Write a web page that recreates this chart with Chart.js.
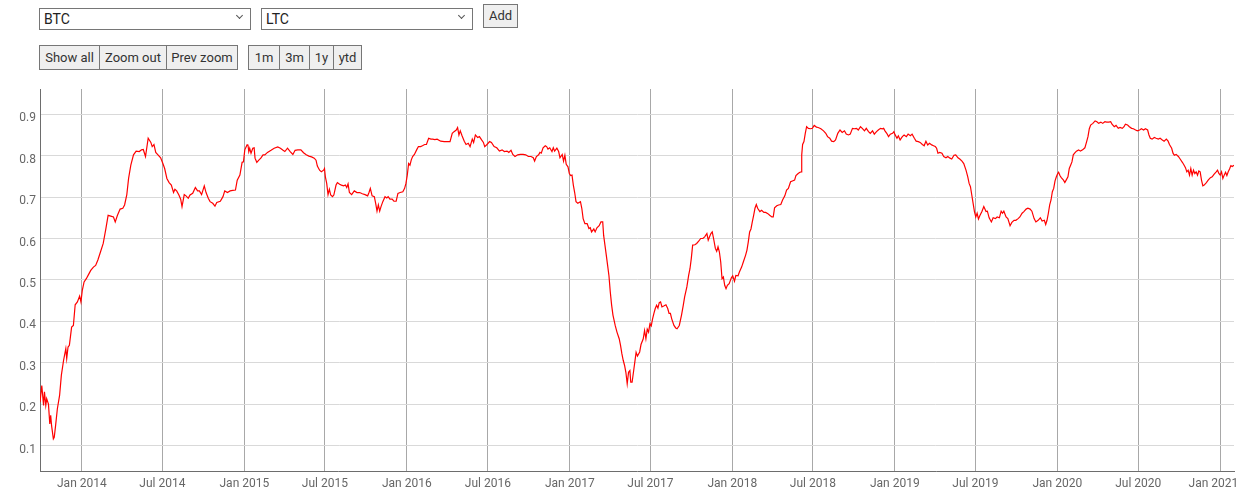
<!DOCTYPE html>
<html>
<head>
<meta charset="utf-8">
<script src="https://cdn.jsdelivr.net/npm/chart.js@4/dist/chart.umd.min.js"></script>
<style>
html,body{margin:0;padding:0;background:#fff;width:1240px;height:499px;overflow:hidden;font-family:Roboto,"Noto Sans",sans-serif;}
.sel{position:absolute;top:8px;height:22px;width:212px;box-sizing:border-box;border:1px solid #767676;background:#fff;font-size:14px;color:#222;line-height:20px;padding-left:4px;}
.chev{position:absolute;right:8px;top:4px;width:4px;height:4px;border-right:1.6px solid #555;border-bottom:1.6px solid #555;transform:rotate(45deg);}
.add{position:absolute;left:483px;top:4px;width:35px;height:24px;box-sizing:border-box;border:1px solid #767676;background:#efefef;font-size:13px;color:#333;line-height:22px;text-align:center;}
.grp{position:absolute;top:45px;height:25px;display:flex;box-sizing:border-box;border:1px solid #767676;background:#efefef;font-size:13px;color:#333;}
.grp div{box-sizing:border-box;line-height:23px;text-align:center;border-left:1px solid #767676;}
.grp div:first-child{border-left:none;}
#wrap{position:absolute;left:0;top:80px;width:1240px;height:419px;}
</style>
</head>
<body>
<div class="sel" style="left:39px">BTC<span class="chev"></span></div>
<div class="sel" style="left:261px">LTC<span class="chev"></span></div>
<div class="add">Add</div>
<div class="grp" style="left:39px;width:199px"><div style="width:59px">Show all</div><div style="width:67px">Zoom out</div><div style="width:71px">Prev zoom</div></div>
<div class="grp" style="left:248px;width:114px"><div style="width:30px">1m</div><div style="width:30px">3m</div><div style="width:24px">1y</div><div style="width:28px">ytd</div></div>
<div id="wrap"><canvas id="c" width="1240" height="419"></canvas></div>
<script>
const dates = [
'2013-09-29','2013-10-03','2013-10-07','2013-10-09','2013-10-12','2013-10-14','2013-10-18','2013-10-21','2013-10-23','2013-10-25','2013-10-29','2013-10-31',
'2013-11-03','2013-11-07','2013-11-12','2013-11-16','2013-11-21','2013-11-26','2013-11-28','2013-12-01','2013-12-04','2013-12-09','2013-12-13','2013-12-17','2013-12-22','2013-12-27','2013-12-30',
'2014-01-02','2014-01-06','2014-01-11','2014-01-15','2014-01-21','2014-01-27','2014-02-01','2014-02-06','2014-02-12','2014-02-18','2014-02-24',
'2014-03-01','2014-03-07','2014-03-13','2014-03-17','2014-03-22','2014-03-28','2014-04-03','2014-04-07','2014-04-12','2014-04-16','2014-04-21','2014-04-27',
'2014-05-03','2014-05-10','2014-05-15','2014-05-19','2014-05-24','2014-05-30','2014-06-05','2014-06-08','2014-06-12','2014-06-16','2014-06-21','2014-06-27',
'2014-07-02','2014-07-06','2014-07-11','2014-07-16','2014-07-21','2014-07-26','2014-07-29','2014-08-02','2014-08-07','2014-08-11','2014-08-14','2014-08-19','2014-08-23','2014-08-28',
'2014-09-01','2014-09-07','2014-09-13','2014-09-18','2014-09-22','2014-09-27','2014-10-03','2014-10-07','2014-10-12','2014-10-16','2014-10-22','2014-10-27','2014-10-31',
'2014-11-08','2014-11-14','2014-11-18','2014-11-24','2014-11-30','2014-12-06','2014-12-12','2014-12-16','2014-12-22','2014-12-27','2014-12-30',
'2015-01-02','2015-01-07','2015-01-09','2015-01-11','2015-01-13','2015-01-16','2015-01-20','2015-01-23','2015-01-25','2015-01-29',
'2015-02-03','2015-02-07','2015-02-12','2015-02-16','2015-02-22','2015-03-02','2015-03-09','2015-03-17','2015-03-23','2015-03-29',
'2015-04-02','2015-04-08','2015-04-14','2015-04-20','2015-04-25','2015-05-01','2015-05-08','2015-05-14','2015-05-20','2015-05-26',
'2015-06-01','2015-06-07','2015-06-11','2015-06-14','2015-06-19','2015-06-23','2015-06-28','2015-06-30',
'2015-07-02','2015-07-05','2015-07-08','2015-07-11','2015-07-14','2015-07-18','2015-07-21','2015-07-26','2015-07-29',
'2015-08-03','2015-08-07','2015-08-12','2015-08-16','2015-08-19','2015-08-22','2015-08-25','2015-08-30',
'2015-09-05','2015-09-11','2015-09-17','2015-09-23','2015-09-29','2015-10-05','2015-10-08','2015-10-11','2015-10-15','2015-10-20','2015-10-23','2015-10-26','2015-10-29',
'2015-11-01','2015-11-04','2015-11-08','2015-11-13','2015-11-17','2015-11-20','2015-11-24','2015-11-29',
'2015-12-03','2015-12-08','2015-12-12','2015-12-17','2015-12-23','2015-12-27','2015-12-30',
'2016-01-02','2016-01-05','2016-01-08','2016-01-11','2016-01-14','2016-01-18','2016-01-23','2016-01-27',
'2016-02-01','2016-02-05','2016-02-10','2016-02-14','2016-02-19','2016-02-24','2016-02-28','2016-03-04','2016-03-09',
'2016-03-17','2016-03-25','2016-04-01','2016-04-07','2016-04-12','2016-04-16','2016-04-21','2016-04-24','2016-04-27','2016-04-30',
'2016-05-04','2016-05-09','2016-05-13','2016-05-18','2016-05-22','2016-05-27','2016-05-30',
'2016-06-03','2016-06-08','2016-06-12','2016-06-17','2016-06-21','2016-06-24','2016-06-29',
'2016-07-05','2016-07-09','2016-07-15','2016-07-21','2016-07-27','2016-08-02','2016-08-07','2016-08-13','2016-08-17','2016-08-22','2016-08-26','2016-08-31',
'2016-09-06','2016-09-12','2016-09-18','2016-09-24','2016-09-30','2016-10-06','2016-10-11','2016-10-14','2016-10-18','2016-10-23','2016-10-26','2016-10-29',
'2016-11-02','2016-11-07','2016-11-10','2016-11-13','2016-11-17','2016-11-22','2016-11-25','2016-11-28',
'2016-12-03','2016-12-07','2016-12-10','2016-12-15','2016-12-18','2016-12-21','2016-12-24','2016-12-28','2016-12-31',
'2017-01-03','2017-01-06','2017-01-09','2017-01-12','2017-01-15','2017-01-19','2017-01-25','2017-01-28','2017-01-31',
'2017-02-04','2017-02-09','2017-02-13','2017-02-16','2017-02-19','2017-02-24','2017-02-27',
'2017-03-03','2017-03-08','2017-03-12','2017-03-16','2017-03-18','2017-03-21','2017-03-24','2017-03-27','2017-03-30',
'2017-04-02','2017-04-05','2017-04-08','2017-04-13','2017-04-17','2017-04-22','2017-04-25','2017-04-28',
'2017-05-01','2017-05-04','2017-05-07','2017-05-10','2017-05-13','2017-05-16','2017-05-18','2017-05-21','2017-05-25','2017-05-30',
'2017-06-02','2017-06-07','2017-06-10','2017-06-15','2017-06-18','2017-06-21','2017-06-24','2017-06-27','2017-06-30',
'2017-07-03','2017-07-06','2017-07-09','2017-07-12','2017-07-15','2017-07-18','2017-07-21','2017-07-24','2017-07-27','2017-07-31',
'2017-08-05','2017-08-09','2017-08-12','2017-08-15','2017-08-18','2017-08-23','2017-08-27','2017-08-30',
'2017-09-04','2017-09-09','2017-09-13','2017-09-16','2017-09-21','2017-09-25','2017-09-28',
'2017-10-01','2017-10-04','2017-10-09','2017-10-13','2017-10-18','2017-10-22','2017-10-27','2017-10-31',
'2017-11-05','2017-11-08','2017-11-11','2017-11-14','2017-11-17','2017-11-20','2017-11-24','2017-11-27','2017-11-30',
'2017-12-03','2017-12-06','2017-12-09','2017-12-12','2017-12-15','2017-12-18','2017-12-21','2017-12-25','2017-12-30',
'2018-01-02','2018-01-06','2018-01-09','2018-01-14','2018-01-17','2018-01-22','2018-01-26','2018-01-31',
'2018-02-03','2018-02-06','2018-02-09','2018-02-12','2018-02-15','2018-02-18','2018-02-21','2018-02-24','2018-02-27',
'2018-03-04','2018-03-08','2018-03-13','2018-03-17','2018-03-22','2018-03-26','2018-03-31',
'2018-04-03','2018-04-06','2018-04-11','2018-04-15','2018-04-20','2018-04-24','2018-04-29',
'2018-05-03','2018-05-07','2018-05-12','2018-05-16','2018-05-21','2018-05-24','2018-05-29',
'2018-06-02','2018-06-05','2018-06-06','2018-06-08','2018-06-11','2018-06-14','2018-06-17','2018-06-21','2018-06-26','2018-06-30',
'2018-07-04','2018-07-09','2018-07-13','2018-07-19','2018-07-25','2018-07-30',
'2018-08-03','2018-08-08','2018-08-12','2018-08-17','2018-08-21','2018-08-26','2018-08-31',
'2018-09-05','2018-09-10','2018-09-14','2018-09-19','2018-09-23','2018-09-28',
'2018-10-02','2018-10-07','2018-10-11','2018-10-16','2018-10-20','2018-10-25','2018-10-29',
'2018-11-03','2018-11-07','2018-11-12','2018-11-16','2018-11-21','2018-11-25','2018-11-30',
'2018-12-04','2018-12-07','2018-12-10','2018-12-14','2018-12-18','2018-12-22','2018-12-27','2018-12-30',
'2019-01-01','2019-01-06','2019-01-09','2019-01-13','2019-01-18','2019-01-22','2019-01-27','2019-01-31',
'2019-02-05','2019-02-09','2019-02-14','2019-02-18','2019-02-23','2019-02-27',
'2019-03-04','2019-03-08','2019-03-12','2019-03-16','2019-03-20','2019-03-25','2019-03-29',
'2019-04-02','2019-04-05','2019-04-08','2019-04-12','2019-04-17','2019-04-21','2019-04-26','2019-04-30',
'2019-05-05','2019-05-09','2019-05-14','2019-05-18','2019-05-23','2019-05-27',
'2019-06-01','2019-06-05','2019-06-10','2019-06-14','2019-06-17','2019-06-20','2019-06-23','2019-06-26','2019-06-29',
'2019-07-02','2019-07-05','2019-07-08','2019-07-11','2019-07-16','2019-07-20','2019-07-25','2019-07-28',
'2019-08-01','2019-08-06','2019-08-10','2019-08-15','2019-08-19','2019-08-24','2019-08-28','2019-08-31',
'2019-09-03','2019-09-08','2019-09-12','2019-09-17','2019-09-21','2019-09-26','2019-09-30',
'2019-10-05','2019-10-09','2019-10-14','2019-10-18','2019-10-23','2019-10-27',
'2019-11-01','2019-11-05','2019-11-10','2019-11-14','2019-11-19','2019-11-24','2019-11-28',
'2019-12-03','2019-12-06','2019-12-09','2019-12-12','2019-12-15','2019-12-18','2019-12-21','2019-12-24','2019-12-27','2019-12-30',
'2020-01-02','2020-01-04','2020-01-07','2020-01-10','2020-01-15','2020-01-18','2020-01-21','2020-01-25','2020-01-28','2020-01-31',
'2020-02-03','2020-02-06','2020-02-09','2020-02-13','2020-02-18','2020-02-22','2020-02-27',
'2020-03-03','2020-03-07','2020-03-10','2020-03-13','2020-03-16','2020-03-21','2020-03-26','2020-03-30',
'2020-04-03','2020-04-08','2020-04-12','2020-04-17','2020-04-21','2020-04-26','2020-04-30',
'2020-05-03','2020-05-08','2020-05-12','2020-05-17','2020-05-21','2020-05-26','2020-05-30',
'2020-06-02','2020-06-07','2020-06-11','2020-06-16','2020-06-20','2020-06-25','2020-06-29',
'2020-07-04','2020-07-08','2020-07-13','2020-07-17','2020-07-22','2020-07-25','2020-07-28',
'2020-08-01','2020-08-06','2020-08-10','2020-08-15','2020-08-19','2020-08-24','2020-08-28',
'2020-09-02','2020-09-06','2020-09-09','2020-09-14','2020-09-17','2020-09-20','2020-09-24','2020-09-29',
'2020-10-03','2020-10-08','2020-10-12','2020-10-15','2020-10-18','2020-10-21','2020-10-24','2020-10-27','2020-10-30',
'2020-11-02','2020-11-05','2020-11-08','2020-11-11','2020-11-14','2020-11-17','2020-11-20','2020-11-23','2020-11-26',
'2020-12-01','2020-12-05','2020-12-10','2020-12-14','2020-12-18','2020-12-23','2020-12-26','2020-12-29',
'2021-01-01','2021-01-04','2021-01-07','2021-01-10','2021-01-13','2021-01-16','2021-01-19','2021-01-22','2021-01-25','2021-01-28','2021-02-01'
];
const correlation = [
0.205,0.245,0.197,0.23,0.197,0.213,0.20,0.152,0.173,0.148,0.116,0.12,
0.148,0.189,0.221,0.27,0.306,0.334,0.31,0.338,0.342,0.386,0.39,0.44,0.447,0.461,0.447,
0.475,0.495,0.503,0.511,0.523,0.531,0.535,0.548,0.568,0.588,0.624,
0.656,0.654,0.652,0.64,0.656,0.671,0.673,0.681,0.706,0.745,0.777,0.802,
0.811,0.81,0.814,0.815,0.798,0.842,0.832,0.822,0.827,0.808,0.802,0.795,
0.781,0.769,0.745,0.735,0.729,0.711,0.719,0.715,0.705,0.695,0.677,0.706,0.703,0.697,
0.705,0.709,0.723,0.715,0.715,0.706,0.727,0.711,0.697,0.689,0.685,0.678,0.687,
0.69,0.701,0.715,0.711,0.715,0.716,0.717,0.741,0.753,0.784,0.785,
0.814,0.826,0.827,0.81,0.818,0.806,0.818,0.819,0.794,0.784,
0.79,0.794,0.802,0.802,0.808,0.813,0.818,0.821,0.818,0.813,
0.81,0.818,0.81,0.803,0.813,0.814,0.814,0.807,0.802,0.799,
0.797,0.794,0.789,0.775,0.765,0.761,0.765,0.769,
0.749,0.733,0.706,0.719,0.705,0.701,0.705,0.729,0.735,
0.731,0.729,0.727,0.729,0.723,0.732,0.711,0.706,
0.715,0.711,0.711,0.708,0.706,0.703,0.711,0.721,0.703,0.701,0.685,0.666,0.681,
0.666,0.677,0.689,0.701,0.698,0.701,0.695,0.695,
0.69,0.69,0.709,0.711,0.713,0.721,0.733,
0.753,0.781,0.777,0.79,0.798,0.803,0.814,0.822,
0.822,0.824,0.827,0.827,0.842,0.84,0.84,0.839,0.84,
0.835,0.834,0.834,0.834,0.854,0.858,0.862,0.868,0.85,0.86,
0.848,0.835,0.827,0.83,0.822,0.84,0.832,
0.85,0.844,0.846,0.838,0.832,0.822,0.827,
0.834,0.832,0.822,0.819,0.811,0.814,0.81,0.811,0.808,0.813,0.803,0.798,
0.802,0.803,0.803,0.802,0.798,0.798,0.795,0.787,0.798,0.802,0.808,0.806,
0.819,0.824,0.822,0.816,0.819,0.81,0.819,0.811,
0.818,0.81,0.795,0.803,0.787,0.801,0.779,0.773,0.757,
0.752,0.753,0.729,0.711,0.689,0.685,0.689,0.673,0.648,
0.636,0.636,0.624,0.626,0.616,0.623,0.616,
0.626,0.631,0.64,0.64,0.608,0.584,0.56,0.535,0.51,
0.471,0.439,0.415,0.39,0.374,0.358,0.342,0.322,
0.306,0.294,0.277,0.249,0.277,0.281,0.253,0.253,0.285,0.325,
0.316,0.326,0.344,0.358,0.378,0.358,0.381,0.374,0.394,
0.389,0.406,0.419,0.431,0.439,0.432,0.445,0.447,0.435,0.437,
0.44,0.431,0.419,0.419,0.406,0.39,0.384,0.382,
0.39,0.415,0.439,0.459,0.483,0.511,0.527,
0.552,0.584,0.585,0.588,0.594,0.6,0.6,0.604,
0.612,0.596,0.604,0.612,0.616,0.6,0.576,0.569,0.58,
0.568,0.544,0.503,0.507,0.487,0.479,0.487,0.491,0.505,
0.51,0.497,0.511,0.51,0.519,0.531,0.544,0.56,
0.572,0.592,0.616,0.623,0.64,0.656,0.673,0.682,0.673,
0.665,0.668,0.663,0.663,0.66,0.656,0.652,
0.652,0.674,0.679,0.681,0.682,0.693,0.703,
0.717,0.721,0.737,0.739,0.741,0.752,0.757,
0.76,0.761,0.802,0.827,0.834,0.854,0.87,0.866,0.865,0.866,
0.873,0.869,0.868,0.865,0.86,0.854,
0.846,0.842,0.835,0.834,0.838,0.854,0.862,
0.856,0.86,0.852,0.85,0.852,0.866,
0.865,0.866,0.862,0.87,0.866,0.86,0.866,
0.858,0.854,0.86,0.852,0.858,0.862,0.866,
0.865,0.866,0.86,0.854,0.846,0.852,0.854,0.858,
0.852,0.842,0.848,0.838,0.846,0.85,0.846,0.852,
0.848,0.852,0.842,0.835,0.834,0.832,
0.827,0.824,0.835,0.826,0.83,0.826,0.824,
0.822,0.818,0.806,0.808,0.806,0.798,0.795,0.798,
0.794,0.792,0.801,0.802,0.795,0.792,
0.787,0.781,0.765,0.749,0.733,0.725,0.705,0.685,0.665,
0.652,0.661,0.647,0.655,0.666,0.677,0.665,0.666,
0.65,0.64,0.65,0.648,0.652,0.65,0.666,0.661,
0.666,0.652,0.648,0.631,0.639,0.644,0.644,
0.648,0.652,0.661,0.665,0.671,0.673,
0.671,0.666,0.648,0.64,0.644,0.65,0.642,
0.644,0.634,0.644,0.661,0.681,0.693,0.713,0.721,0.739,0.749,
0.757,0.76,0.752,0.747,0.741,0.735,0.741,0.749,0.769,0.777,
0.785,0.802,0.806,0.811,0.814,0.811,0.814,
0.819,0.834,0.846,0.865,0.874,0.878,0.884,0.882,
0.878,0.881,0.878,0.882,0.881,0.881,0.882,
0.876,0.87,0.873,0.866,0.868,0.866,0.87,
0.876,0.874,0.87,0.866,0.865,0.862,0.86,
0.862,0.865,0.862,0.865,0.862,0.85,0.842,
0.84,0.844,0.842,0.84,0.842,0.838,0.835,
0.84,0.835,0.827,0.818,0.806,0.801,0.803,0.798,
0.792,0.784,0.777,0.771,0.761,0.765,0.753,0.769,0.753,
0.765,0.757,0.761,0.753,0.763,0.761,0.741,0.727,0.729,
0.735,0.741,0.747,0.749,0.755,0.761,0.765,0.757,
0.753,0.761,0.745,0.753,0.76,0.752,0.761,0.768,0.776,0.774,0.777
];
const xTickDates = ['2014-01-01','2014-07-01','2015-01-01','2015-07-01','2016-01-01','2016-07-01','2017-01-01','2017-07-01','2018-01-01','2018-07-01','2019-01-01','2019-07-01','2020-01-01','2020-07-01','2021-01-01'];
const xTickLabels = ['Jan 2014','Jul 2014','Jan 2015','Jul 2015','Jan 2016','Jul 2016','Jan 2017','Jul 2017','Jan 2018','Jul 2018','Jan 2019','Jul 2019','Jan 2020','Jul 2020','Jan 2021'];
const yTicks = [0.1,0.2,0.3,0.4,0.5,0.6,0.7,0.8,0.9];
const xRange = ['2013-09-29','2021-02-01'];
const yRange = [0.0386, 0.961];

const points = dates.map((d, i) => ({x: Date.parse(d), y: correlation[i]}));
const tickFont = {family: 'Roboto', size: 12};

new Chart(document.getElementById('c'), {
  type: 'line',
  data: {datasets: [{data: points, borderColor: '#ff0000', borderWidth: 1.2, pointRadius: 0, tension: 0, fill: false}]},
  options: {
    responsive: false, animation: false, devicePixelRatio: 1, events: [],
    layout: {padding: {left: 0, right: 6, top: 9, bottom: 0}},
    plugins: {legend: {display: false}, tooltip: {enabled: false}},
    scales: {
      x: {
        type: 'linear', min: Date.parse(xRange[0]), max: Date.parse(xRange[1]),
        afterBuildTicks: s => { s.ticks = xTickDates.map(d => ({value: Date.parse(d)})); },
        afterFit: s => { s.height = 28; s.paddingLeft = 0; s.paddingRight = 0; },
        ticks: {autoSkip: false, maxRotation: 0, minRotation: 0, padding: 6, color: '#666', font: tickFont,
          // keep the last label inside the canvas (shifted left, as in the reference)
          callback: (v, i) => i === xTickLabels.length - 1 ? xTickLabels[i] + '\u2007\u2007' : xTickLabels[i]},
        grid: {color: '#a8a8a8', drawTicks: false, lineWidth: 1},
        border: {color: '#6d6d6d', width: 1}
      },
      y: {
        min: yRange[0], max: yRange[1],
        afterBuildTicks: s => { s.ticks = yTicks.map(v => ({value: v})); },
        afterFit: s => { s.width = 40; s.paddingTop = 0; s.paddingBottom = 0; },
        ticks: {padding: 4, labelOffset: 4, color: '#666', font: tickFont, callback: v => v.toFixed(1)},
        grid: {color: '#d9d9d9', drawTicks: false, lineWidth: 1},
        border: {color: '#6d6d6d', width: 1}
      }
    }
  }
});
</script>
</body>
</html>
